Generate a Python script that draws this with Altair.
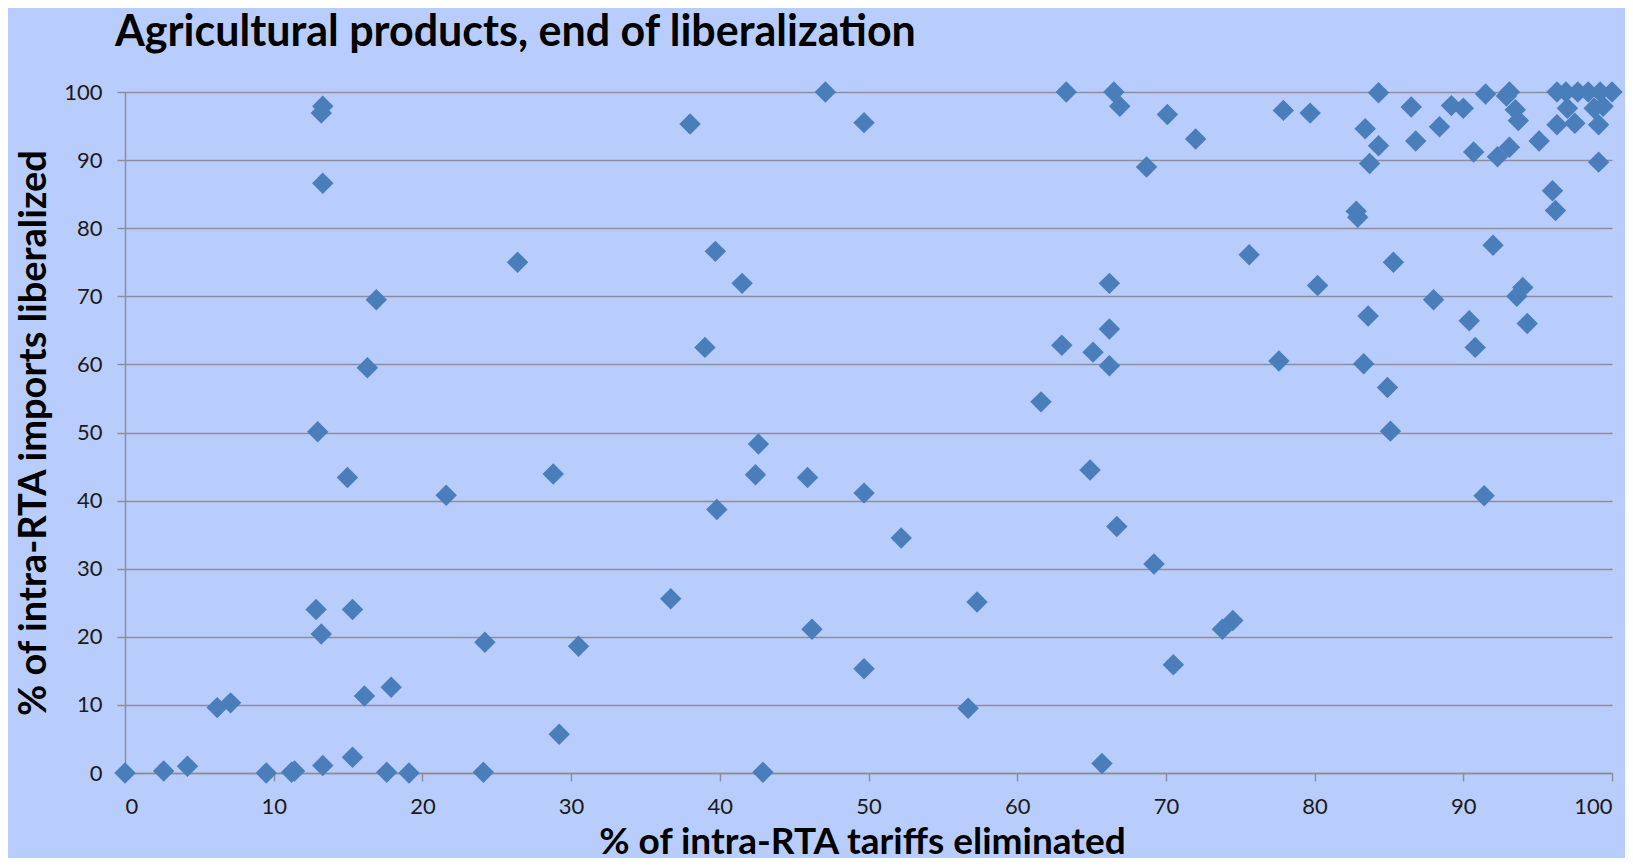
import altair as alt
import pandas as pd

# % of intra-RTA tariffs eliminated (x) and % of intra-RTA imports liberalized (y)
tariffs_eliminated = [
    0.0, 2.6, 4.2, 6.2, 7.1, 9.5, 11.2, 11.4, 12.85, 13.2,
    13.3, 12.96, 13.3, 13.2, 13.3, 14.96, 15.3, 15.3, 16.1, 16.3,
    16.9, 17.6, 17.9, 19.1, 21.6, 24.2, 24.1, 26.4, 28.8, 29.2,
    30.5, 36.7, 38.0, 39.0, 39.7, 39.8, 41.5, 42.4, 42.6, 42.9,
    45.9, 46.2, 47.1, 49.7, 49.7, 49.7, 52.2, 56.7, 57.3, 61.6,
    63.0, 63.3, 64.9, 65.1, 65.7, 66.2, 66.2, 66.2, 66.5, 66.7,
    66.9, 68.7, 69.2, 70.1, 70.5, 72.0, 73.8, 74.5, 75.6, 77.6,
    77.9, 79.7, 80.2, 82.8, 82.9, 83.3, 83.4, 83.6, 83.7, 84.3,
    84.3, 84.9, 85.1, 85.3, 86.5, 86.8, 88.0, 88.4, 89.2, 90.0,
    90.4, 90.7, 90.8, 91.4, 91.5, 92.0, 92.3, 92.9, 93.1, 93.1,
    93.5, 93.6, 93.7, 94.0, 94.3, 95.1, 96.0, 96.2, 96.3, 96.3,
    96.9, 97.0, 97.5, 97.7, 98.4, 98.8, 99.1, 99.1, 99.2, 99.4,
    100.0,
]
imports_liberalized = [
    0.0, 0.3, 1.0, 9.6, 10.3, 0.0, 0.1, 0.3, 24.0, 20.4,
    1.1, 50.1, 97.9, 96.9, 86.6, 43.4, 24.0, 2.3, 11.3, 59.5,
    69.5, 0.1, 12.6, 0.0, 40.8, 19.2, 0.1, 75.0, 43.9, 5.7,
    18.6, 25.6, 95.3, 62.5, 76.6, 38.7, 71.9, 43.8, 48.3, 0.1,
    43.4, 21.1, 100.0, 95.5, 41.1, 15.3, 34.5, 9.5, 25.1, 54.5,
    62.8, 100.0, 44.5, 61.8, 1.4, 71.9, 65.2, 59.8, 100.0, 36.2,
    97.9, 89.0, 30.7, 96.7, 15.9, 93.1, 21.1, 22.4, 76.1, 60.5,
    97.3, 96.9, 71.6, 82.5, 81.6, 60.1, 94.6, 67.1, 89.5, 99.9,
    92.1, 56.6, 50.2, 75.0, 97.8, 92.8, 69.5, 94.9, 98.0, 97.6,
    66.4, 91.2, 62.5, 40.7, 99.7, 77.5, 90.5, 99.4, 100.0, 91.9,
    97.4, 70.0, 95.8, 71.3, 66.0, 92.8, 85.5, 82.6, 100.0, 95.2,
    100.0, 97.6, 95.4, 100.0, 100.0, 97.6, 95.2, 89.7, 100.0, 97.9,
    100.0,
]
x_ticks = [0, 10, 20, 30, 40, 50, 60, 70, 80, 90, 100]
y_ticks = [0, 10, 20, 30, 40, 50, 60, 70, 80, 90, 100]

df = pd.DataFrame({"tariffs": tariffs_eliminated, "imports": imports_liberalized})

BG = "#b9cdfc"
MARK = "#4a7ebb"
GRID = "#8c8f99"

chart = (
    alt.Chart(df)
    .mark_point(shape="diamond", filled=True, size=460, color=MARK, opacity=1, clip=False)
    .encode(
        x=alt.X(
            "tariffs:Q",
            scale=alt.Scale(domain=[0, 100], nice=False, zero=False),
            axis=alt.Axis(
                values=x_ticks,
                title="% of intra-RTA tariffs eliminated",
                titleFont="Lato",
                titleFontSize=37,
                titleFontWeight="bold",
                titleColor="black",
                titleX=737,
                titleY=80,
                titleAlign="center",
                titleBaseline="alphabetic",
                grid=False,
                domainColor=GRID,
                domainWidth=1.5,
                tickColor=GRID,
                tickSize=8,
                tickWidth=1.5,
                labelFont="Lato",
                labelFontSize=22,
                labelColor="#1a1a1a",
                labelPadding=15,
            ),
        ),
        y=alt.Y(
            "imports:Q",
            scale=alt.Scale(domain=[0, 100], nice=False, zero=False),
            axis=alt.Axis(
                values=y_ticks,
                title="% of intra-RTA imports liberalized",
                titleFont="Lato",
                titleFontSize=38,
                titleFontWeight="bold",
                titleColor="black",
                titleX=-80,
                titleBaseline="alphabetic",
                grid=True,
                gridColor=GRID,
                gridWidth=1.5,
                domainColor=GRID,
                domainWidth=1.5,
                tickColor=GRID,
                tickSize=8,
                tickWidth=1.5,
                labelFont="Lato",
                labelFontSize=22,
                labelColor="#1a1a1a",
                labelPadding=15,
            ),
        ),
    )
    .properties(
        width=1487,
        height=681,
        background=BG,
        autosize="none",
        padding={"left": 117, "top": 84, "right": 13, "bottom": 85},
        title=alt.TitleParams(
            text="Agricultural products, end of liberalization",
            anchor="start",
            frame="group",
            font="Lato",
            fontSize=43,
            fontWeight="bold",
            color="black",
            dx=-10,
            dy=18,
            offset=10,
            baseline="alphabetic",
        ),
    )
    .configure_view(stroke=None)
)

chart.save("out.html", embed_options={"renderer": "svg", "actions": False})
